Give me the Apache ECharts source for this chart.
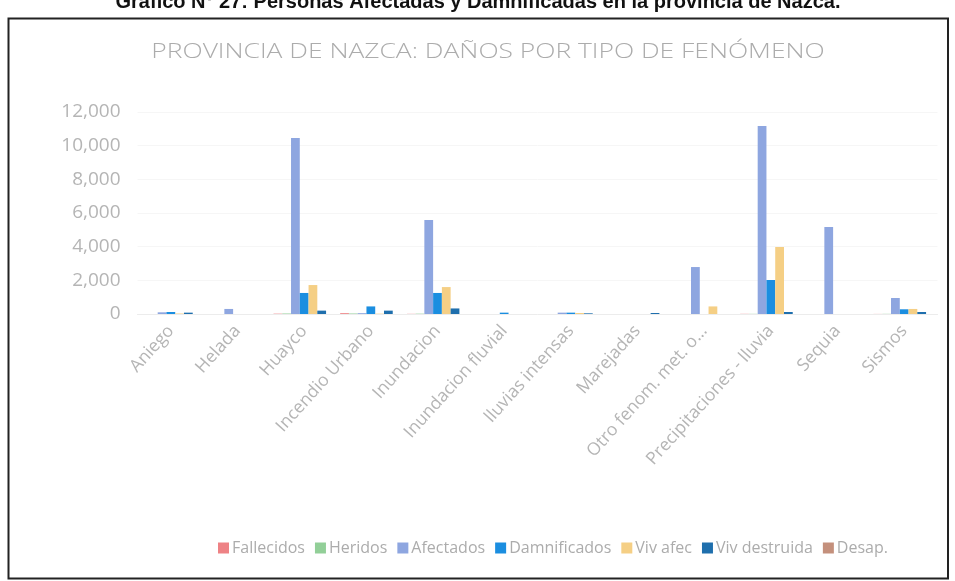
<!DOCTYPE html>
<html><head><meta charset="utf-8">
<script src="https://cdn.jsdelivr.net/npm/echarts@6/dist/echarts.min.js"></script>
<style>html,body{margin:0;padding:0;background:#fff}#c{width:955px;height:581px}</style>
</head><body><div id="c"></div>
<script>
const categories = ['Aniego','Helada','Huayco','Incendio Urbano','Inundacion','Inundacion fluvial','lluvias intensas','Marejadas','Otro fenom. met. o...','Precipitaciones - lluvia','Sequia','Sismos'];
const fallecidos   = [0, 0, 20, 50, 10, 0, 0, 0, 0, 10, 0, 5];
const heridos      = [0, 0, 30, 30, 20, 0, 0, 0, 0, 10, 0, 10];
const afectados    = [100, 300, 10450, 50, 5580, 0, 80, 0, 2790, 11170, 5170, 950];
const damnificados = [120, 0, 1250, 450, 1250, 80, 80, 0, 0, 2020, 0, 280];
const vivAfec      = [30, 0, 1720, 20, 1600, 0, 60, 0, 450, 3980, 0, 300];
const vivDestruida = [80, 0, 200, 200, 330, 0, 40, 60, 0, 120, 0, 120];
const desap        = [0, 0, 0, 0, 0, 0, 0, 0, 0, 0, 0, 0];
const seriesNames = ['Fallecidos','Heridos','Afectados','Damnificados','Viv afec','Viv destruida','Desap.'];
const seriesData = [fallecidos, heridos, afectados, damnificados, vivAfec, vivDestruida, desap];
const colors = ['#ee8285','#92cf98','#8ea6e0','#1b8ee0','#f5cf85','#1f6fad','#c4907c'];
const yTicks = {min: 0, max: 12000, interval: 2000};
const chartTitle = 'PROVINCIA DE NAZCA: DAÑOS POR TIPO DE FENÓMENO';
const caption = 'Gráfico N° 27: Personas Afectadas y Damnificadas en la provincia de Nazca.';

const chart = echarts.init(document.getElementById('c'));
const font = '"Open Sans", sans-serif';
chart.setOption({
  animation: false,
  color: colors,
  graphic: [
    {type: 'rect', shape: {x: 8.5, y: 18.5, width: 939.5, height: 560}, style: {fill: 'none', stroke: '#222', lineWidth: 2}, silent: true},
    {type: 'text', x: 478, y: 12, style: {text: caption, x: 0, y: 0, textAlign: 'center', textVerticalAlign: 'bottom', font: 'bold 20px "Liberation Sans", sans-serif', fill: '#111'}},
    {type: 'text', x: 488, y: 52, scaleX: 1.32, style: {text: chartTitle, x: 0, y: 0, textAlign: 'center', textVerticalAlign: 'middle', font: '300 20px "Open Sans", sans-serif', fill: '#acacac'}}
  ],
  legend: {
    left: 213, top: 535,
    itemWidth: 11, itemHeight: 11, itemGap: 10,
    icon: 'rect',
    textStyle: {fontFamily: font, fontSize: 16, color: '#acacac', padding: [0,0,0,-2]},
    data: seriesNames
  },
  grid: {left: 137.5, right: 17.5, top: 112, bottom: 267},
  xAxis: {
    type: 'category', data: categories,
    axisLine: {lineStyle: {color: '#ececec'}},
    axisTick: {show: false},
    axisLabel: {interval: 0, rotate: 48, fontFamily: font, fontSize: 17.5, color: '#b5b5b5', margin: 14}
  },
  yAxis: {
    type: 'value', min: yTicks.min, max: yTicks.max, interval: yTicks.interval,
    axisLine: {show: false}, axisTick: {show: false},
    splitLine: {lineStyle: {color: '#f6f6f6'}},
    axisLabel: {fontFamily: font, fontSize: 19, color: '#b5b5b5', margin: 17,
      formatter: v => v.toLocaleString('en-US')}
  },
  series: seriesNames.map((n, i) => ({
    name: n, type: 'bar', data: seriesData[i],
    barGap: '0%', barCategoryGap: '8%'
  }))
});
</script></body></html>
